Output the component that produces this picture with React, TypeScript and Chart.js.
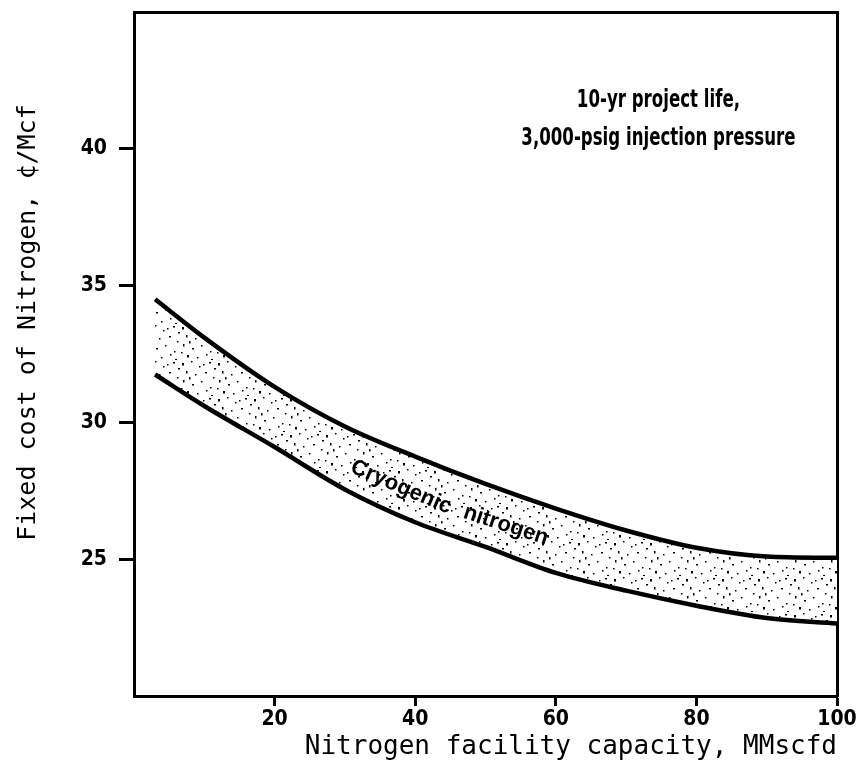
import React, { useEffect, useRef } from "react";
import { Chart, registerables } from "chart.js";

Chart.register(...registerables);

// ---- data ----
const capacity = [3, 10, 20, 30, 40, 50, 60, 70, 80, 90, 100];
const upperCost = [34.5, 33.1, 31.3, 29.85, 28.75, 27.75, 26.85, 26.05, 25.42, 25.1, 25.05];
const lowerCost = [31.75, 30.6, 29.1, 27.55, 26.35, 25.45, 24.5, 23.85, 23.3, 22.85, 22.65];
const xTicks = [20, 40, 60, 80, 100];
const yTicks = [25, 30, 35, 40];
const xTitle = "Nitrogen facility capacity, MMscfd";
const yTitle = "Fixed cost of Nitrogen, \u00A2/Mcf";
const noteLines = ["10-yr project life,", "3,000-psig injection pressure"];
const bandWords = ["Cryogenic", "nitrogen"];

// ---- styling / placement ----
const CONDENSED = '"Liberation Sans Narrow", "DejaVu Sans Condensed", "Arial Narrow", sans-serif';
const MONO = '"DejaVu Sans Mono", "Liberation Mono", monospace';

function makeStipple(): CanvasPattern | string {
  const c = document.createElement("canvas");
  c.width = 36;
  c.height = 36;
  const g = c.getContext("2d");
  if (!g) return "#ddd";
  g.fillStyle = "#fff";
  g.fillRect(0, 0, 36, 36);
  g.fillStyle = "#000";
  const dots = [
    [2, 3], [11, 1], [19, 6], [29, 2], [6, 11], [15, 14], [25, 12], [33, 17],
    [3, 20], [12, 24], [21, 21], [30, 27], [7, 31], [17, 33], [26, 30], [34, 8],
    [9, 17], [23, 4], [31, 35], [1, 28],
  ];
  dots.forEach(([x, y], i) => g.fillRect(x, y, i % 3 === 0 ? 2 : 1.5, i % 4 === 0 ? 2.5 : 1.5));
  return g.createPattern(c, "repeat") || "#ddd";
}

const notesPlugin = {
  id: "notes",
  afterDatasetsDraw(chart: any) {
    const { ctx, scales } = chart;
    const x = scales.x;
    const y = scales.y;
    ctx.save();
    ctx.fillStyle = "#000";
    ctx.textAlign = "center";
    ctx.textBaseline = "middle";
    ctx.font = `bold 24px ${CONDENSED}`;
    const noteY = [41.75, 40.36];
    noteLines.forEach((t, i) => {
      ctx.save();
      ctx.translate(x.getPixelForValue(74.6), y.getPixelForValue(noteY[i]));
      ctx.scale(0.77, 1);
      ctx.fillText(t, 0, 0);
      ctx.restore();
    });

    ctx.font = 'bold 22px "Liberation Sans", Arial, sans-serif';
    const wordPos = [
      { vx: 38, vy: 27.63, a: 23 },
      { vx: 52.9, vy: 26.24, a: 18 },
    ];
    bandWords.forEach((w, i) => {
      const p = wordPos[i];
      ctx.save();
      ctx.translate(x.getPixelForValue(p.vx), y.getPixelForValue(p.vy));
      ctx.rotate((p.a * Math.PI) / 180);
      ctx.fillText(w, 0, 0);
      ctx.restore();
    });

    ctx.save();
    ctx.translate(28, y.getPixelForValue(33.65));
    ctx.rotate(-Math.PI / 2);
    ctx.font = `25px ${MONO}`;
    ctx.fillText(yTitle, 0, 0);
    ctx.restore();
    ctx.restore();
  },
};

export default function App() {
  const ref = useRef<HTMLCanvasElement | null>(null);

  useEffect(() => {
    if (!ref.current) return;
    const pattern = makeStipple();
    const frameScale = (position: string) => ({
      type: "linear" as const,
      position,
      min: position === "top" ? 0 : 20,
      max: position === "top" ? 100 : 45,
      grid: { display: false, drawTicks: false },
      ticks: { display: false },
      border: { display: true, width: 3, color: "#000" },
      afterFit: (s: any) => {
        if (position === "top") s.height = 0;
        else s.width = 0;
        s.paddingTop = 0;
        s.paddingBottom = 0;
        s.paddingLeft = 0;
        s.paddingRight = 0;
      },
    });

    const chart = new Chart(ref.current, {
      type: "line",
      data: {
        datasets: [
          {
            label: "upper",
            data: capacity.map((v, i) => ({ x: v, y: upperCost[i] })),
            borderColor: "#000",
            borderWidth: 4.5,
            pointRadius: 0,
            cubicInterpolationMode: "monotone",
            fill: "+1",
            backgroundColor: pattern as any,
          },
          {
            label: "lower",
            data: capacity.map((v, i) => ({ x: v, y: lowerCost[i] })),
            borderColor: "#000",
            borderWidth: 4.5,
            pointRadius: 0,
            cubicInterpolationMode: "monotone",
            fill: false,
          },
        ],
      },
      options: {
        responsive: false,
        animation: false,
        layout: { padding: { left: 0, right: 23, top: 12, bottom: 0 } },
        plugins: {
          legend: { display: false },
          tooltip: { enabled: false },
          filler: { drawTime: "beforeDatasetsDraw" },
        } as any,
        scales: {
          x: {
            type: "linear",
            position: "bottom",
            min: 0,
            max: 100,
            afterBuildTicks: (s: any) => {
              s.ticks = xTicks.map((v) => ({ value: v }));
            },
            afterFit: (s: any) => {
              s.height = 79;
              s.paddingLeft = 0;
              s.paddingRight = 0;
            },
            grid: { drawOnChartArea: false, drawTicks: true, tickLength: 10, tickWidth: 3, tickColor: "#000", color: "#000" },
            border: { display: true, width: 3, color: "#000" },
            ticks: {
              color: "#000",
              padding: 1,
              autoSkip: false,
              maxRotation: 0,
              font: { family: CONDENSED, size: 21, weight: "bold" },
            },
            title: {
              display: true,
              text: xTitle,
              align: "end",
              color: "#000",
              font: { family: MONO, size: 26, weight: "normal" },
              padding: { top: 0, bottom: 12 },
            },
          },
          y: {
            type: "linear",
            position: "left",
            min: 20,
            max: 45,
            afterBuildTicks: (s: any) => {
              s.ticks = yTicks.map((v) => ({ value: v }));
            },
            afterFit: (s: any) => {
              s.width = 134;
              s.paddingTop = 0;
              s.paddingBottom = 0;
            },
            grid: { drawOnChartArea: false, drawTicks: true, tickLength: 15, tickWidth: 3, tickColor: "#000", color: "#000" },
            border: { display: true, width: 3, color: "#000" },
            ticks: {
              color: "#000",
              padding: 12,
              font: { family: CONDENSED, size: 21, weight: "bold" },
            },
          },
          xTop: frameScale("top") as any,
          yRight: frameScale("right") as any,
        },
      },
      plugins: [notesPlugin],
    });
    return () => chart.destroy();
  }, []);

  return (
    <div style={{ position: "fixed", left: 0, top: 0, width: 860, height: 775, background: "#fff" }}>
      <canvas ref={ref} width={860} height={775} style={{ display: "block" }} />
    </div>
  );
}
